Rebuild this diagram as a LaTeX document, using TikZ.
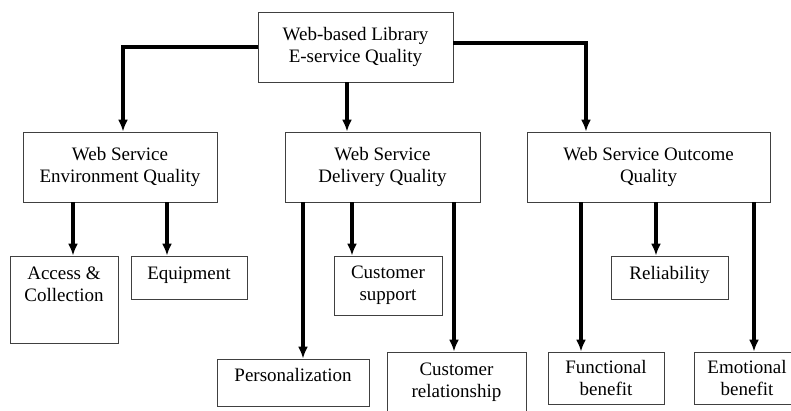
\documentclass[tikz,border=0pt]{standalone}
\usepackage{fontspec}
\setmainfont{Liberation Serif}
\usetikzlibrary{arrows.meta}
\begin{document}
\begin{tikzpicture}[x=1pt, y=-1pt,
    box/.style={draw=black!75, line width=0.8pt, align=center, inner sep=0pt,
      font=\fontsize{19}{22}\selectfont},
    toptext/.style={label={[anchor=north, yshift=-11pt, inner sep=0pt, align=center,
      font=\fontsize{19}{22}\selectfont]north:#1}},
    arr/.style={-{Latex[length=12pt,width=10pt]}, line width=3.2pt}]
  \useasboundingbox (0,0) rectangle (791,410);
  \clip (0,0) rectangle (791,410);

  % top level
  \node[box, minimum width=195, minimum height=70] (lib) at (355.5,47) {Web-based Library\\E-service Quality};

  % dimensions
  \node[box, minimum width=194, minimum height=70] (env) at (120,167) {Web Service\\Environment Quality};
  \node[box, minimum width=195, minimum height=70] (delivery) at (382.5,167) {Web Service\\Delivery Quality};
  \node[box, minimum width=243, minimum height=70] (outcome) at (648.5,167) {Web Service Outcome\\Quality};

  % sub-dimensions
  \node[box, minimum width=108, minimum height=87, toptext={Access \&\\Collection}] (access) at (64,299.5) {};
  \node[box, minimum width=116, minimum height=43, text depth=9pt] (equipment) at (189,277.5) {Equipment};
  \node[box, minimum width=108, minimum height=59] (support) at (388,285.5) {Customer\\support};
  \node[box, minimum width=152, minimum height=47, text depth=15pt] (personal) at (293,382.5) {Personalization};
  \node[box, minimum width=139, minimum height=78, toptext={Customer\\relationship}] (relation) at (456.5,391) {};
  \node[box, minimum width=116, minimum height=52] (functional) at (606,378) {Functional\\benefit};
  \node[box, minimum width=117, minimum height=43, text depth=10pt] (reliability) at (669.5,277.5) {Reliability};
  \node[box, minimum width=106, minimum height=52] (emotional) at (747,378) {Emotional\\benefit};

  % connectors
  \draw[arr] (lib.west) -| ([xshift=3pt]env.north);
  \draw[arr] ([xshift=-8.5pt]lib.south) -- ([xshift=-8.5pt]lib.south |- delivery.north);
  \draw[arr] ([yshift=4pt]lib.east) -| ([xshift=-62.5pt]outcome.north);

  \draw[arr] ([xshift=9pt]access.north |- env.south) -- ([xshift=9pt]access.north);
  \draw[arr] ([xshift=-22pt]equipment.north |- env.south) -- ([xshift=-22pt]equipment.north);

  \draw[arr] ([xshift=10pt]personal.north |- delivery.south) -- ([xshift=10pt]personal.north);
  \draw[arr] ([xshift=-36pt]support.north |- delivery.south) -- ([xshift=-36pt]support.north);
  \draw[arr] ([xshift=-2.5pt]relation.north |- delivery.south) -- ([xshift=-2.5pt]relation.north);

  \draw[arr] ([xshift=-25pt]functional.north |- outcome.south) -- ([xshift=-25pt]functional.north);
  \draw[arr] ([xshift=-13.5pt]reliability.north |- outcome.south) -- ([xshift=-13.5pt]reliability.north);
  \draw[arr] ([xshift=7pt]emotional.north |- outcome.south) -- ([xshift=7pt]emotional.north);
\end{tikzpicture}
\end{document}
